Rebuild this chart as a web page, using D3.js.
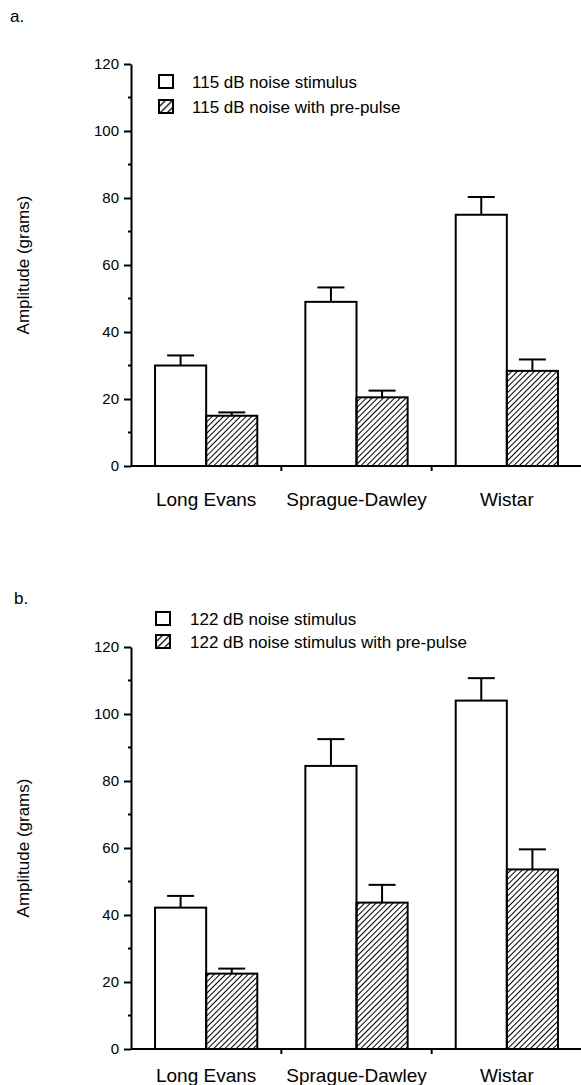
<!DOCTYPE html>
<html lang="en">
  <head>
    <meta charset="utf-8">
    <title>Startle amplitude</title>
    <script type="text/javascript" src="https://cdn.jsdelivr.net/npm/d3@7/dist/d3.min.js"></script>
    <style>
      body { margin: 0; background: #fff; }
      text { font-family: "Liberation Sans", Arial, Helvetica, sans-serif; fill: #000; }
    </style>
  </head>
  <body>
    <script type="text/javascript">
    // strains on the x axis
    var strains = ["Long Evans", "Sprague-Dawley", "Wistar"];
    var conditions = ["noise", "prepulse"];
    var yTicks = [0, 20, 40, 60, 80, 100, 120];
    var yMinorTicks = [10, 30, 50, 70, 90, 110];

    // panel a: 115 dB
    var aLegend = ["115 dB noise stimulus", "115 dB noise with pre-pulse"];
    var aNoise = [30, 49, 75];
    var aNoiseErr = [33, 53.3, 80.3];
    var aPre = [15, 20.5, 28.4];
    var aPreErr = [16, 22.5, 31.8];

    // panel b: 122 dB
    var bLegend = ["122 dB noise stimulus", "122 dB noise stimulus with pre-pulse"];
    var bNoise = [42.2, 84.5, 104];
    var bNoiseErr = [45.7, 92.5, 110.7];
    var bPre = [22.5, 43.7, 53.6];
    var bPreErr = [24, 49, 59.6];

    var w = 581;
    var h = 1085;

    var svg = d3.select("body")
                .append("svg")
                .attr("width", w)
                .attr("height", h);

    // hatch patterns, dense for bars and a coarser one for the legend box
    var defs = svg.append("defs");
    var addHatch = function(id, size, sw) {
      defs.append("pattern")
          .attr("id", id)
          .attr("patternUnits", "userSpaceOnUse")
          .attr("width", size)
          .attr("height", size)
          .attr("patternTransform", "rotate(45)")
        .append("line")
          .attr("x1", 0).attr("y1", 0)
          .attr("x2", 0).attr("y2", size)
          .attr("stroke", "#000")
          .attr("stroke-width", sw);
    };
    addHatch("hatch", 4, 2);
    addHatch("hatchLegend", 5, 2.6);

    var drawPanel = function(p) {
      var g = svg.append("g");

      var xScale = d3.scaleBand()
                     .domain(strains)
                     .range([131, 582]);
      var subScale = d3.scaleBand()
                       .domain(conditions)
                       .range([0, xScale.bandwidth()])
                       .paddingOuter(0.47);
      var yScale = d3.scaleLinear()
                     .domain([0, 120])
                     .range([p.bottom, p.top]);

      // panel letter
      g.append("text")
       .attr("x", p.letterX)
       .attr("y", p.letterY)
       .attr("font-size", 17)
       .text(p.letter);

      // y axis with major ticks
      var yAxis = d3.axisLeft(yScale)
                    .tickValues(yTicks)
                    .tickSize(7)
                    .tickSizeOuter(0)
                    .tickPadding(5);
      var ya = g.append("g")
                .attr("transform", "translate(131,0)")
                .call(yAxis);
      ya.select(".domain").attr("stroke", "#000").attr("stroke-width", 2);
      ya.selectAll(".tick line").attr("stroke", "#000").attr("stroke-width", 2);
      ya.selectAll(".tick text")
        .attr("font-size", 15)
        .attr("fill", "#000")
        .attr("font-family", '"Liberation Sans", Arial, sans-serif');
      // minor ticks
      g.selectAll(".minor")
       .data(yMinorTicks)
       .enter()
       .append("line")
       .attr("x1", 128).attr("x2", 131)
       .attr("y1", function(d) { return yScale(d); })
       .attr("y2", function(d) { return yScale(d); })
       .attr("stroke", "#000")
       .attr("stroke-width", 2);

      // y axis title
      g.append("text")
       .attr("transform", "translate(29," + (p.top + p.bottom) / 2 + ") rotate(-90)")
       .attr("text-anchor", "middle")
       .attr("font-size", 17)
       .text("Amplitude (grams)");

      // x axis line and ticks between strains
      g.append("line")
       .attr("x1", 131).attr("x2", 582)
       .attr("y1", p.bottom).attr("y2", p.bottom)
       .attr("stroke", "#000")
       .attr("stroke-width", 2);
      g.selectAll(".xtick")
       .data(strains.slice(1))
       .enter()
       .append("line")
       .attr("x1", function(d) { return xScale(d); })
       .attr("x2", function(d) { return xScale(d); })
       .attr("y1", p.bottom).attr("y2", p.bottom + 5)
       .attr("stroke", "#000")
       .attr("stroke-width", 2);

      // strain labels
      g.selectAll(".xlab")
       .data(strains)
       .enter()
       .append("text")
       .attr("x", function(d) { return xScale(d) + xScale.bandwidth() / 2; })
       .attr("y", p.labelY)
       .attr("text-anchor", "middle")
       .attr("font-size", 19)
       .text(function(d) { return d; });

      // bars + error bars
      var rows = [];
      strains.forEach(function(s, i) {
        rows.push({strain: s, cond: "noise", v: p.noise[i], err: p.noiseErr[i]});
        rows.push({strain: s, cond: "prepulse", v: p.pre[i], err: p.preErr[i]});
      });

      var barX = function(d) { return xScale(d.strain) + subScale(d.cond); };
      var barMid = function(d) { return barX(d) + subScale.bandwidth() / 2; };

      g.selectAll(".errv")
       .data(rows)
       .enter()
       .append("line")
       .attr("x1", barMid).attr("x2", barMid)
       .attr("y1", function(d) { return yScale(d.v); })
       .attr("y2", function(d) { return yScale(d.err); })
       .attr("stroke", "#000")
       .attr("stroke-width", 2);
      g.selectAll(".errc")
       .data(rows)
       .enter()
       .append("line")
       .attr("x1", function(d) { return barMid(d) - 13.5; })
       .attr("x2", function(d) { return barMid(d) + 13.5; })
       .attr("y1", function(d) { return yScale(d.err); })
       .attr("y2", function(d) { return yScale(d.err); })
       .attr("stroke", "#000")
       .attr("stroke-width", 2);

      g.selectAll(".bar")
       .data(rows)
       .enter()
       .append("rect")
       .attr("x", barX)
       .attr("y", function(d) { return yScale(d.v); })
       .attr("width", subScale.bandwidth())
       .attr("height", function(d) { return p.bottom - yScale(d.v); })
       .attr("fill", function(d) { return d.cond === "noise" ? "#fff" : "url(#hatch)"; })
       .attr("stroke", "#000")
       .attr("stroke-width", 2);

      // legend
      var lg = g.selectAll(".leg")
                .data(conditions)
                .enter()
                .append("g")
                .attr("transform", function(d, i) {
                  return "translate(" + p.legX + "," + (p.legY + i * p.legGap) + ")";
                });
      lg.append("rect")
        .attr("x", 0).attr("y", -13)
        .attr("width", 14).attr("height", 13)
        .attr("fill", function(d) { return d === "noise" ? "#fff" : "url(#hatchLegend)"; })
        .attr("stroke", "#000")
        .attr("stroke-width", 2);
      lg.append("text")
        .attr("x", p.legTextDx)
        .attr("y", 0)
        .attr("font-size", 17)
        .text(function(d, i) { return p.legend[i]; });
    };

    drawPanel({
      letter: "a.", letterX: 10, letterY: 22,
      top: 64, bottom: 466, labelY: 506,
      noise: aNoise, noiseErr: aNoiseErr, pre: aPre, preErr: aPreErr,
      legend: aLegend, legX: 159, legY: 88, legGap: 25, legTextDx: 33
    });

    drawPanel({
      letter: "b.", letterX: 14, letterY: 604,
      top: 647, bottom: 1049, labelY: 1082,
      noise: bNoise, noiseErr: bNoiseErr, pre: bPre, preErr: bPreErr,
      legend: bLegend, legX: 156, legY: 625, legGap: 23, legTextDx: 34
    });
    </script>
  </body>
</html>
